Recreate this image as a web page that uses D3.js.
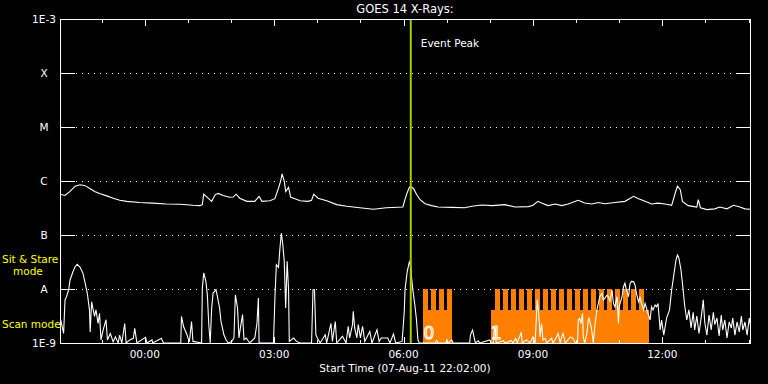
<!DOCTYPE html>
<html><head><meta charset="utf-8">
<script src="https://cdn.jsdelivr.net/npm/d3@7"></script>
<style>html,body{margin:0;padding:0;background:#000;}svg{display:block;}</style>
</head><body>
<svg id="chart" width="768" height="384"></svg>
<script>
// ---------- DATA ----------
const startTime = "22:02";
const endTime = "14:02";
const yTickFlux = [1e-3, 1e-4, 1e-5, 1e-6, 1e-7, 1e-8, 1e-9];
const yTickLabels = ["1E-3", "X", "M", "C", "B", "A", "1E-9"];
const xTickLabels = ["00:00", "03:00", "06:00", "09:00", "12:00"];
const eventPeakTime = "06:10";

// GOES 14 long channel (1-8 A), W/m^2
const longTimes = ["22:02","22:09","22:16","22:23","22:30","22:37","22:44","22:51","22:58","23:07",
"23:16","23:25","23:35","23:53","00:11","00:30","00:49","01:07","01:17","01:20",
"01:22","01:28","01:33","01:38","01:42","01:49","01:58","02:03","02:07","02:12",
"02:22","02:33","02:39","02:43","02:54","03:01","03:06","03:09","03:11","03:14",
"03:16","03:20","03:23","03:29","03:36","03:47","03:52","03:55","04:01","04:13",
"04:27","04:41","04:59","05:18","05:36","05:59","06:04","06:08","06:10","06:14",
"06:18","06:23","06:30","06:39","06:48","07:07","07:25","07:35","07:49","08:03",
"08:21","08:35","08:54","09:00","09:07","09:12","09:21","09:31","09:40","09:49",
"10:03","10:12","10:22","10:31","10:40","10:54","11:08","11:20","11:27","11:36",
"11:45","11:54","12:04","12:13","12:18","12:21","12:25","12:28","12:36","12:48",
"12:50","12:53","13:02","13:13","13:20","13:30","13:39","13:48","13:55","14:02"];
const longFlux = [5.7e-7,5.4e-7,6.4e-7,8.0e-7,8.5e-7,8.2e-7,7.2e-7,6.3e-7,5.8e-7,5.3e-7,
4.8e-7,4.4e-7,4.2e-7,4.0e-7,3.9e-7,3.75e-7,3.7e-7,3.55e-7,3.5e-7,3.65e-7,
5.7e-7,4.8e-7,4.2e-7,5.6e-7,5.9e-7,5.4e-7,5.0e-7,5.05e-7,5.7e-7,4.8e-7,
4.2e-7,4.2e-7,5.2e-7,4.2e-7,4.3e-7,4.7e-7,7.4e-7,1.0e-6,1.35e-6,9.9e-7,
6.4e-7,7.6e-7,5.0e-7,4.7e-7,4.3e-7,4.2e-7,4.4e-7,5.7e-7,4.8e-7,4.3e-7,
3.65e-7,3.4e-7,3.2e-7,3.0e-7,3.2e-7,3.3e-7,5.6e-7,7.6e-7,7.9e-7,7.2e-7,
5.7e-7,4.5e-7,3.8e-7,3.5e-7,3.3e-7,3.25e-7,3.2e-7,3.4e-7,3.6e-7,3.5e-7,
3.65e-7,3.3e-7,3.35e-7,3.55e-7,4.2e-7,3.9e-7,3.5e-7,3.75e-7,3.5e-7,3.75e-7,
4.4e-7,3.9e-7,3.75e-7,4.0e-7,3.8e-7,4.0e-7,4.2e-7,5.2e-7,4.7e-7,4.2e-7,
3.75e-7,3.9e-7,3.75e-7,3.55e-7,6.0e-7,8.0e-7,6.9e-7,4.2e-7,3.5e-7,3.3e-7,
4.5e-7,3.2e-7,2.95e-7,3.05e-7,3.3e-7,3.05e-7,3.55e-7,3.3e-7,3.05e-7,3.0e-7];

// GOES 14 short channel (0.5-4 A), W/m^2
const shortTimes = ["22:03","22:07","22:09","22:11","22:14","22:16","22:20","22:23","22:26","22:30",
"22:34","22:37","22:40","22:43","22:44","22:46","22:50","22:52","22:55","22:57",
"22:59","23:02","23:06","23:08","23:12","23:16","23:19","23:23","23:25","23:28",
"23:32","23:34","23:39","23:44","23:46","23:49","00:01","00:03","00:10","00:11",
"00:23","00:26","00:50","00:51","00:54","00:58","01:02","01:05","01:07","01:19",
"01:20","01:22","01:25","01:27","01:29","01:31","01:33","01:35","01:39","01:41",
"01:44","01:46","01:48","01:50","01:53","01:56","02:01","02:04","02:06","02:09",
"02:11","02:13","02:16","02:18","02:21","02:26","02:33","02:36","02:38","02:39",
"02:59","03:01","03:03","03:06","03:08","03:10","03:12","03:14","03:16","03:18",
"03:20","03:21","03:27","03:31","03:36","03:52","03:54","03:56","03:58","04:00",
"04:04","04:11","04:13","04:19","04:21","04:25","04:27","04:35","04:40","04:43",
"04:45","04:49","04:50","04:52","04:55","04:57","05:00","05:03","05:06","05:13",
"05:16","05:23","05:26","05:29","05:38","05:41","05:46","05:49","05:58","06:01",
"06:02","06:05","06:08","06:10","06:11","06:13","06:16","06:18","06:20","06:22",
"06:44","06:46","06:48","06:59","07:00","07:02","07:07","07:09","07:32","07:33",
"07:36","07:38","07:40","07:44","07:46","08:00","08:02","08:05","08:06","08:07",
"08:09","08:19","08:21","08:30","08:32","08:36","08:38","08:44","08:45","08:51",
"08:56","09:00","09:03","09:06","09:08","09:10","09:12","09:14","09:17","09:19",
"09:26","09:28","09:33","09:35","09:38","09:40","09:42","09:45","09:52","09:56",
"09:59","10:02","10:03","10:05","10:07","10:09","10:10","10:12","10:15","10:17",
"10:18","10:21","10:23","10:24","10:26","10:29","10:31","10:33","10:36","10:38",
"10:40","10:43","10:45","10:47","10:50","10:52","10:54","10:57","10:59","11:00",
"11:04","11:06","11:08","11:10","11:13","11:15","11:17","11:20","11:22","11:24",
"11:27","11:29","11:31","11:34","11:36","11:38","11:40","11:43","11:45","11:47",
"11:50","11:52","11:54","11:57","11:59","12:02","12:06","12:10","12:13","12:16",
"12:19","12:21","12:23","12:26","12:29","12:31","12:34","12:37","12:40","12:43",
"12:45","12:48","12:51","12:54","12:57","12:59","13:02","13:05","13:08","13:11",
"13:13","13:16","13:19","13:22","13:24","13:27","13:30","13:33","13:36","13:38",
"13:41","13:44","13:47","13:50","13:52","13:55","13:58","14:01","14:03"];
const shortFlux = [2.7e-9,1.5e-9,6.3e-9,7.2e-9,9.6e-9,1.47e-8,2.09e-8,2.59e-8,2.87e-8,2.52e-8,
1.95e-8,1.28e-8,8.3e-9,4.1e-9,1.6e-9,5.8e-9,3.1e-9,4.1e-9,2.3e-9,3.55e-9,
1.14e-9,1.74e-9,2.7e-9,1.14e-9,1.5e-9,1.05e-9,1.3e-9,8e-10,1.4e-9,8e-10,
2.3e-9,8e-10,1.14e-9,1.22e-9,1.87e-9,8e-10,1.27e-9,8e-10,1.14e-9,8e-10,
1.22e-9,8e-10,8e-10,3.1e-9,2.0e-9,1.5e-9,1.05e-9,2.5e-9,1.07e-9,8e-10,
1.04e-8,1.98e-8,1.39e-8,7.8e-9,2.2e-9,8e-10,4.45e-9,8.4e-9,9.7e-9,7.3e-9,
4.45e-9,2.5e-9,1.9e-9,1.42e-9,1.15e-9,1.0e-9,1.07e-9,1.24e-9,7.8e-9,4.45e-9,
1.24e-9,1.9e-9,3.35e-9,1.15e-9,1.24e-9,1.0e-9,1.24e-9,2.3e-9,6.8e-9,8e-10,
8e-10,6.8e-9,2.82e-8,2.52e-8,5.7e-8,1.09e-7,6.6e-8,3.26e-8,4.45e-9,3.26e-8,
9.7e-9,1.07e-9,1.24e-9,1.07e-9,8e-10,8e-10,9.7e-9,9.7e-9,1.42e-9,1.24e-9,
8e-10,1.42e-9,8e-10,2.3e-9,1.07e-9,2.5e-9,8e-10,1.33e-9,8e-10,2.04e-9,
1.24e-9,2.2e-9,3.87e-9,1.9e-9,1.24e-9,2.2e-9,1.24e-9,2.04e-9,1.07e-9,1.64e-9,
8e-10,1.76e-9,1.07e-9,1.24e-9,1.24e-9,8e-10,1.46e-9,1.0e-9,1.07e-9,3.87e-9,
9.6e-9,2.07e-8,3.16e-8,2.67e-8,1.69e-8,9.6e-9,4.7e-9,2.67e-9,1.14e-9,8e-10,
8e-10,1.11e-9,8e-10,8e-10,1.14e-9,8e-10,1.14e-9,8e-10,8e-10,1.4e-9,
1.74e-9,1.3e-9,8e-10,1.1e-9,8e-10,1.14e-9,8e-10,8e-10,1.74e-9,1.87e-9,
8e-10,1.11e-9,8e-10,1.11e-9,8e-10,1.22e-9,8e-10,1.6e-9,8e-10,1.14e-9,
8e-10,1.3e-9,8e-10,6.3e-9,3.55e-9,1.3e-9,2.3e-9,1.14e-9,1.22e-9,8e-10,
1.22e-9,8e-10,1.3e-9,1.5e-9,8e-10,1.3e-9,1.5e-9,8e-10,1.3e-9,1.22e-9,
8e-10,8e-10,2.67e-9,2.87e-9,2.3e-9,3.55e-9,1.3e-9,8e-10,1.5e-9,2.67e-9,
2.87e-9,2.0e-9,1.3e-9,8e-10,2.0e-9,4.1e-9,5.4e-9,7.2e-9,8.3e-9,6.3e-9,
6.7e-9,7.7e-9,7.2e-9,5.8e-9,9.6e-9,5.4e-9,4.7e-9,7.2e-9,2.3e-9,4.7e-9,
7.2e-9,1.1e-8,1.28e-8,9.6e-9,7.2e-9,1.24e-8,1.38e-8,1.37e-8,1.19e-8,8.3e-9,
5.8e-9,7.2e-9,5.4e-9,4.1e-9,5.4e-9,4.4e-9,3.55e-9,2.67e-9,4.7e-9,4.1e-9,
5.05e-9,4.7e-9,5.4e-9,1.74e-9,2.67e-9,1.4e-9,2.9e-9,4.1e-9,9.6e-9,1.82e-8,
3.44e-8,4.27e-8,3.75e-8,2.25e-8,9.6e-9,5.05e-9,2.67e-9,4.1e-9,1.9e-9,3.7e-9,
1.74e-9,3.16e-9,1.5e-9,2.9e-9,6.3e-9,2.45e-9,1.4e-9,3.3e-9,1.74e-9,3.7e-9,
2.2e-9,2.9e-9,1.35e-9,3.3e-9,1.74e-9,2.67e-9,1.24e-9,2.45e-9,1.9e-9,2.9e-9,
1.4e-9,2.45e-9,1.6e-9,3.16e-9,1.74e-9,2.45e-9,1.4e-9,2.9e-9,2.0e-9];

// Observing mode: scan blocks and sit & stare intervals
const scanBlocks = [["06:27","07:05"], ["08:02","11:42"]];
const scanBlockLabels = ["0", "1"];
const stareStarts = ["06:27","06:38","06:49","07:00",
"08:07","08:18","08:29","08:41","08:52","09:03","09:14","09:25","09:36","09:47",
"09:59","10:10","10:21","10:32","10:43","10:54","11:05","11:16","11:28"];
const stareMinutes = 7;
const modeLevels = ["none", "scan", "stare"];

// ---------- RENDER ----------
const W = 768, H = 384;
const m = {left: 60, right: 750, top: 19, bottom: 343};
const svg = d3.select("#chart");
svg.append("rect").attr("width", W).attr("height", H).attr("fill", "#000");

function t(s) {
  const [h, mi] = s.split(":").map(Number);
  return new Date(2011, 7, h >= 22 ? 7 : 8, h, mi);
}

const x = d3.scaleTime().domain([t(startTime), t(endTime)]).range([m.left, m.right]);
const y = d3.scaleLog().domain([1e-9, 1e-3]).range([m.bottom, m.top]).clamp(true);
const modeY = d3.scaleOrdinal().domain(modeLevels).range([m.bottom, 310, y(1e-8)]);

const font = "DejaVu Sans, sans-serif";

// dotted gridlines
const gridVals = yTickFlux.slice(1, -1);
svg.append("g").selectAll("line").data(gridVals).join("line")
  .attr("x1", m.left + 16).attr("x2", m.right - 15)
  .attr("y1", d => Math.round(y(d)) + 0.5).attr("y2", d => Math.round(y(d)) + 0.5)
  .attr("stroke", "#fff").attr("stroke-width", 1)
  .attr("stroke-dasharray", "1,5");

// mode (orange)
const modeG = svg.append("g").attr("fill", "#ff8000").attr("shape-rendering", "crispEdges");
modeG.selectAll("rect.scan").data(scanBlocks).join("rect").attr("class", "scan")
  .attr("x", d => x(t(d[0]))).attr("width", d => x(t(d[1])) - x(t(d[0])))
  .attr("y", modeY("scan")).attr("height", modeY("none") - modeY("scan"));
modeG.selectAll("rect.stare").data(stareStarts).join("rect").attr("class", "stare")
  .attr("x", d => x(t(d)))
  .attr("width", d => x(d3.timeMinute.offset(t(d), stareMinutes)) - x(t(d)))
  .attr("y", modeY("stare")).attr("height", modeY("none") - modeY("stare"));

// curves
svg.append("clipPath").attr("id", "plotclip").append("rect")
  .attr("x", m.left).attr("y", m.top).attr("width", m.right - m.left).attr("height", m.bottom - m.top);

const line = d3.line().x(d => x(d[0])).y(d => y(d[1]));
const longData = longTimes.map((s, i) => [t(s), longFlux[i]]);
const shortData = shortTimes.map((s, i) => [t(s), shortFlux[i]]);
svg.append("path").datum(longData).attr("d", line)
  .attr("fill", "none").attr("stroke", "#fff").attr("stroke-width", 1.1)
  .attr("clip-path", "url(#plotclip)");
svg.append("path").datum(shortData).attr("d", line)
  .attr("fill", "none").attr("stroke", "#fff").attr("stroke-width", 1.1)
  .attr("clip-path", "url(#plotclip)");

// scan block labels
svg.append("g").selectAll("text").data(scanBlocks).join("text")
  .attr("x", (d, i) => x(t(d[0])) + (i === 0 ? 6 : 5))
  .attr("y", m.bottom - 4)
  .attr("text-anchor", "middle")
  .attr("font-family", font).attr("font-size", 17)
  .attr("fill", "none").attr("stroke", "#fff").attr("stroke-width", 1.1)
  .text((d, i) => scanBlockLabels[i]);

// event peak line
const xp = x(t(eventPeakTime));
svg.append("line").attr("x1", xp).attr("x2", xp).attr("y1", m.top).attr("y2", m.bottom)
  .attr("stroke", "#a0d000").attr("stroke-width", 2);
svg.append("text").attr("x", xp + 10).attr("y", 47)
  .attr("font-family", font).attr("font-size", 10.5).attr("fill", "#fff").text("Event Peak");

// frame
svg.append("rect").attr("x", m.left + 0.5).attr("y", m.top + 0.5)
  .attr("width", m.right - m.left).attr("height", m.bottom - m.top)
  .attr("fill", "none").attr("stroke", "#fff").attr("stroke-width", 1)
  .attr("shape-rendering", "crispEdges");

// y ticks both sides
const yt = svg.append("g").attr("stroke", "#fff").attr("shape-rendering", "crispEdges");
yTickFlux.forEach(v => {
  const yy = Math.round(y(v)) + 0.5;
  yt.append("line").attr("x1", m.left).attr("x2", m.left + 15).attr("y1", yy).attr("y2", yy);
  yt.append("line").attr("x1", m.right - 14).attr("x2", m.right + 1).attr("y1", yy).attr("y2", yy);
});
svg.append("g").selectAll("text").data(yTickFlux).join("text")
  .attr("x", 44).attr("y", d => y(d) + 4)
  .attr("text-anchor", "middle").attr("font-family", font).attr("font-size", 10.5)
  .attr("fill", "#fff").text((d, i) => yTickLabels[i]);

// x ticks top & bottom
const hours = d3.timeHour.range(t(startTime), t(endTime));
const xt = svg.append("g").attr("stroke", "#fff").attr("shape-rendering", "crispEdges");
hours.forEach(h => {
  const xx = Math.round(x(h)) + 0.5;
  const len = h.getHours() % 3 === 0 ? 7 : 4;
  xt.append("line").attr("x1", xx).attr("x2", xx).attr("y1", m.top).attr("y2", m.top + len);
  xt.append("line").attr("x1", xx).attr("x2", xx).attr("y1", m.bottom + 1).attr("y2", m.bottom + 1 - len);
});
const majors = hours.filter(h => h.getHours() % 3 === 0);
svg.append("g").selectAll("text").data(majors).join("text")
  .attr("x", d => x(d)).attr("y", 358)
  .attr("text-anchor", "middle").attr("font-family", font).attr("font-size", 10.5)
  .attr("fill", "#fff").text((d, i) => xTickLabels[i]);

// titles
svg.append("text").attr("x", (m.left + m.right) / 2).attr("y", 13)
  .attr("text-anchor", "middle").attr("font-family", font).attr("font-size", 11.5)
  .attr("fill", "#fff").text("GOES 14 X-Rays:");
svg.append("text").attr("x", (m.left + m.right) / 2).attr("y", 372)
  .attr("text-anchor", "middle").attr("font-family", font).attr("font-size", 10.5)
  .attr("fill", "#fff").text("Start Time (07-Aug-11 22:02:00)");

// mode labels
const modeLab = svg.append("g").attr("font-family", font).attr("font-size", 10.5).attr("fill", "#ffff00");
modeLab.append("text").attr("x", 2).attr("y", 263).text("Sit & Stare");
modeLab.append("text").attr("x", 13).attr("y", 275).text("mode");
modeLab.append("text").attr("x", 2).attr("y", 328).text("Scan mode");
</script>
</body></html>
